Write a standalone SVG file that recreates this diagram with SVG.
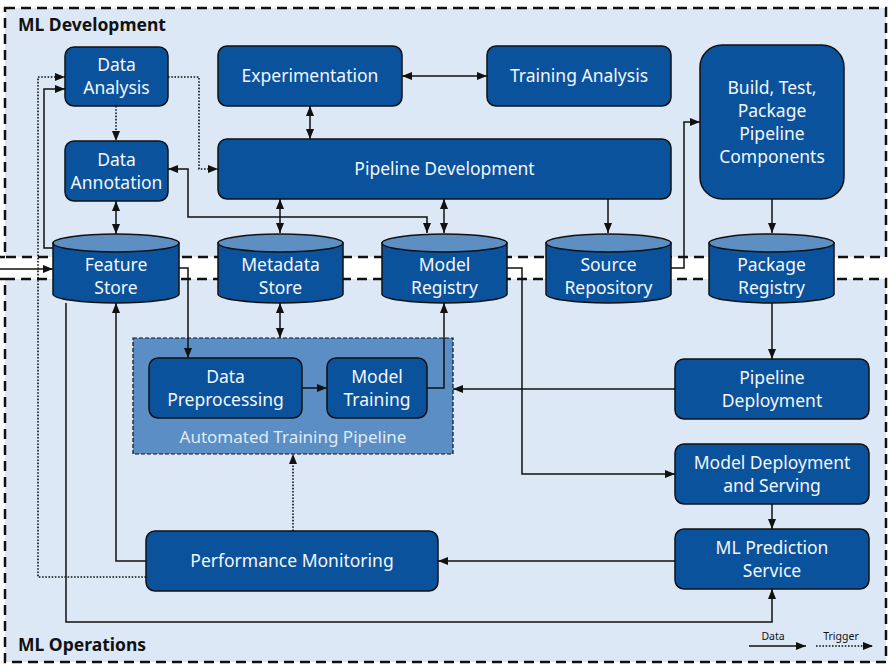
<svg xmlns="http://www.w3.org/2000/svg" width="896" height="672" viewBox="0 0 896 672">
<style>
.panel{fill:#dce8f5;stroke:#111;stroke-width:2.5;stroke-dasharray:10,6}
.node{fill:#0b529c;stroke:#111;stroke-width:1.5}
.cyl{fill:#0b529c;stroke:#111;stroke-width:1.5}
.cyltop{fill:#5d8fc3;stroke:#111;stroke-width:1.5}
.t{font-family:"Noto Sans","Liberation Sans",sans-serif;font-size:17.5px;fill:#f2f6fb;text-anchor:middle}
.title{font-family:"Noto Sans","Liberation Sans",sans-serif;font-size:17.5px;font-weight:bold;fill:#111}
.leg{font-family:"Noto Sans","Liberation Sans",sans-serif;font-size:10.5px;fill:#111;text-anchor:middle}
.c{fill:none;stroke:#111;stroke-width:1.5}
.d{fill:none;stroke:#111;stroke-width:1.6;stroke-dasharray:1.6,1.6}
</style>
<defs>
<marker id="ah" viewBox="0 0 10 8" refX="10" refY="4" markerWidth="10" markerHeight="8" markerUnits="userSpaceOnUse" orient="auto-start-reverse">
<path d="M0,0 L10,4 L0,8 z" fill="#111"/>
</marker>
</defs>
<rect width="896" height="672" fill="#fff"/>
<g id="panels">
<rect class="panel" x="5" y="8" width="881" height="249"/>
<rect class="panel" x="5" y="279" width="881" height="383"/>
<line x1="0" y1="257" x2="5" y2="257" stroke="#111" stroke-width="2.5"/>
<line x1="0" y1="279" x2="5" y2="279" stroke="#111" stroke-width="2.5"/>
<text class="title" x="18" y="31">ML Development</text>
<text class="title" x="18" y="651">ML Operations</text>
</g>
<g id="automated-training-pipeline">
<rect x="133" y="338" width="320" height="116" fill="#5b8ec4" stroke="#111" stroke-width="1.2" stroke-dasharray="4,2"/>
<text class="t" x="293" y="443" style="fill:#dfeaf7;font-size:17px">Automated Training Pipeline</text>
</g>
<g id="connectors">
<path class="d" d="M116,106 V141" marker-end="url(#ah)"/>
<path class="d" d="M168,77 H199 V169 H218" marker-end="url(#ah)"/>
<path class="d" d="M146,577 H38 V77 H65" marker-end="url(#ah)"/>
<path class="c" d="M53,248 H44 V89 H65" marker-end="url(#ah)"/>
<path class="c" d="M116,201 V234" marker-start="url(#ah)" marker-end="url(#ah)"/>
<path class="c" d="M168,169 H188 V217 H427 V233" marker-start="url(#ah)" marker-end="url(#ah)"/>
<path class="c" d="M402,76 H487" marker-start="url(#ah)" marker-end="url(#ah)"/>
<path class="c" d="M310,106 V139" marker-start="url(#ah)" marker-end="url(#ah)"/>
<path class="c" d="M280,199 V233" marker-start="url(#ah)" marker-end="url(#ah)"/>
<path class="c" d="M444,199 V233" marker-start="url(#ah)" marker-end="url(#ah)"/>
<path class="c" d="M608,199 V233" marker-end="url(#ah)"/>
<path class="c" d="M671,268 H684 V122 H700" marker-end="url(#ah)"/>
<path class="c" d="M772,199 V233" marker-end="url(#ah)"/>
<path class="c" d="M772,303 V359" marker-end="url(#ah)"/>
<path class="c" d="M675,389 H453" marker-end="url(#ah)"/>
<path class="c" d="M507,268 H522 V474 H675" marker-end="url(#ah)"/>
<path class="c" d="M427,388 H444 V303" marker-end="url(#ah)"/>
<path class="c" d="M280,303 V338" marker-start="url(#ah)" marker-end="url(#ah)"/>
<path class="c" d="M179,268 H188 V358" marker-end="url(#ah)"/>
<path class="c" d="M302,388 H327" marker-end="url(#ah)"/>
<path class="c" d="M146,561 H116 V303" marker-end="url(#ah)"/>
<path class="d" d="M293,531 V454" marker-end="url(#ah)"/>
<path class="c" d="M675,561 H438" marker-end="url(#ah)"/>
<path class="c" d="M66,303 V622 H772 V589" marker-end="url(#ah)"/>
<path class="c" d="M772,504 V529" marker-end="url(#ah)"/>
<path class="c" d="M0,269 H53" marker-end="url(#ah)"/>
</g>
<g id="data-analysis">
<rect class="node" x="65" y="47" width="103" height="59" rx="9"/>
<text class="t" x="116.5" y="71">Data</text>
<text class="t" x="116.5" y="94">Analysis</text>
</g>
<g id="data-annotation">
<rect class="node" x="65" y="141" width="103" height="60" rx="9"/>
<text class="t" x="116.5" y="166">Data</text>
<text class="t" x="116.5" y="189">Annotation</text>
</g>
<g id="experimentation">
<rect class="node" x="218" y="46" width="184" height="60" rx="9"/>
<text class="t" x="310" y="82">Experimentation</text>
</g>
<g id="training-analysis">
<rect class="node" x="487" y="46" width="184" height="60" rx="9"/>
<text class="t" x="579" y="82">Training Analysis</text>
</g>
<g id="pipeline-development">
<rect class="node" x="218" y="139" width="453" height="60" rx="9"/>
<text class="t" x="444.5" y="175">Pipeline Development</text>
</g>
<g id="build-test-package">
<rect class="node" x="700" y="45" width="144" height="154" rx="22"/>
<text class="t" x="772" y="94">Build, Test,</text>
<text class="t" x="772" y="117">Package</text>
<text class="t" x="772" y="140">Pipeline</text>
<text class="t" x="772" y="163">Components</text>
</g>
<g id="feature-store">
<path class="cyl" d="M53,243 V294 A63,9 0 0 0 179,294 V243 Z"/>
<ellipse class="cyltop" cx="116" cy="243" rx="63" ry="9"/>
<text class="t" x="116" y="271">Feature</text>
<text class="t" x="116" y="294">Store</text>
</g>
<g id="metadata-store">
<path class="cyl" d="M218,243 V294 A62.5,9 0 0 0 343,294 V243 Z"/>
<ellipse class="cyltop" cx="280.5" cy="243" rx="62.5" ry="9"/>
<text class="t" x="280.5" y="271">Metadata</text>
<text class="t" x="280.5" y="294">Store</text>
</g>
<g id="model-registry">
<path class="cyl" d="M382,243 V294 A62.5,9 0 0 0 507,294 V243 Z"/>
<ellipse class="cyltop" cx="444.5" cy="243" rx="62.5" ry="9"/>
<text class="t" x="444.5" y="271">Model</text>
<text class="t" x="444.5" y="294">Registry</text>
</g>
<g id="source-repository">
<path class="cyl" d="M546,243 V294 A62.5,9 0 0 0 671,294 V243 Z"/>
<ellipse class="cyltop" cx="608.5" cy="243" rx="62.5" ry="9"/>
<text class="t" x="608.5" y="271">Source</text>
<text class="t" x="608.5" y="294">Repository</text>
</g>
<g id="package-registry">
<path class="cyl" d="M709,243 V294 A62.5,9 0 0 0 834,294 V243 Z"/>
<ellipse class="cyltop" cx="771.5" cy="243" rx="62.5" ry="9"/>
<text class="t" x="771.5" y="271">Package</text>
<text class="t" x="771.5" y="294">Registry</text>
</g>
<g id="data-preprocessing">
<rect class="node" x="149" y="358" width="153" height="60" rx="9"/>
<text class="t" x="225.5" y="383">Data</text>
<text class="t" x="225.5" y="406">Preprocessing</text>
</g>
<g id="model-training">
<rect class="node" x="327" y="358" width="100" height="60" rx="9"/>
<text class="t" x="377" y="383">Model</text>
<text class="t" x="377" y="406">Training</text>
</g>
<g id="pipeline-deployment">
<rect class="node" x="675" y="359" width="194" height="60" rx="9"/>
<text class="t" x="772" y="384">Pipeline</text>
<text class="t" x="772" y="407">Deployment</text>
</g>
<g id="model-deployment-serving">
<rect class="node" x="675" y="444" width="194" height="60" rx="9"/>
<text class="t" x="772" y="469">Model Deployment</text>
<text class="t" x="772" y="492">and Serving</text>
</g>
<g id="ml-prediction-service">
<rect class="node" x="675" y="529" width="194" height="60" rx="9"/>
<text class="t" x="772" y="554">ML Prediction</text>
<text class="t" x="772" y="577">Service</text>
</g>
<g id="performance-monitoring">
<rect class="node" x="146" y="531" width="292" height="60" rx="9"/>
<text class="t" x="292" y="567">Performance Monitoring</text>
</g>
<g id="legend">
<text class="leg" x="773" y="640">Data</text>
<path class="c" d="M749,646 H806" marker-end="url(#ah)"/>
<text class="leg" x="841" y="640">Trigger</text>
<path class="d" d="M816,646 H873" marker-end="url(#ah)"/>
</g>
</svg>
